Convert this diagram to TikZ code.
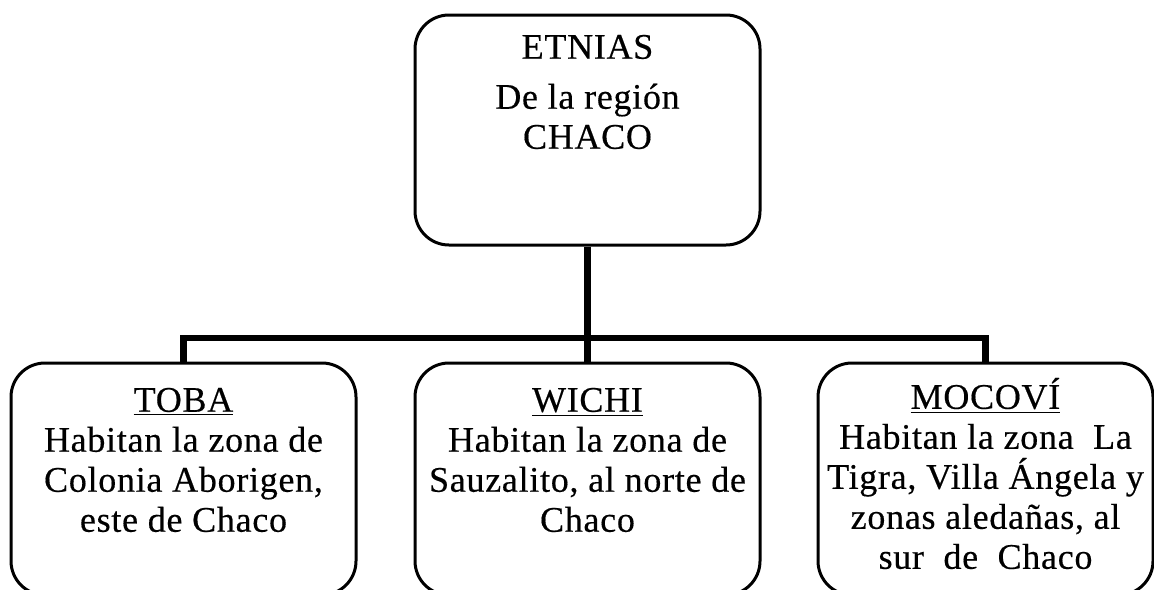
\documentclass[tikz,border=0pt]{standalone}
\usepackage{fontspec}
\setmainfont{Liberation Serif}[LetterSpace=2, FakeBold=0.4]
\usetikzlibrary{positioning}

\begin{document}
\begin{tikzpicture}[x=0.5pt, y=-0.5pt,
  caja/.style={draw, line width=1.5pt, rounded corners=17pt, minimum width=172.5pt, inner sep=0pt},
  texto/.style={align=center, inner sep=0pt, font=\fontsize{18pt}{20pt}\selectfont},
  conector/.style={line width=3.2pt}]
  \useasboundingbox (0,0) rectangle (1154,589);
  % cajas
  \node[caja, minimum height=115pt] (etnias) at (587.5,130) {};
  \node[caja, minimum height=116pt] (toba) at (183.5,479) {};
  \node[caja, minimum height=116pt] (wichi) at (587.5,479) {};
  \node[caja, minimum width=167.5pt, minimum height=116pt] (mocovi) at (985.5,479) {};
  % textos
  \node[texto, below=10.5pt of etnias.north] (etniasT) {ETNIAS\\[5pt]De la región\\CHACO};
  \node[texto, below=13pt of toba.north] (tobaT) {\underline{TOBA}\\Habitan la zona de\\Colonia Aborigen,\\este de Chaco};
  \node[texto, below=13pt of wichi.north] (wichiT) {\underline{WICHI}\\Habitan la zona de\\Sauzalito, al norte de\\Chaco};
  \node[texto, below=8pt of mocovi.north] (mocoviT) {\underline{MOCOVÍ}\\Habitan la zona\ \ La\\Tigra, Villa Ángela y\\zonas aledañas, al\\sur\ \ de\ \ Chaco};
  % conectores
  \coordinate (union) at (587.5,338);
  \draw[conector] (etnias.south) -- (union);
  \draw[conector] (toba.north) |- (union) -| (mocovi.north);
  \draw[conector] (union) -- (wichi.north);
\end{tikzpicture}
\end{document}
